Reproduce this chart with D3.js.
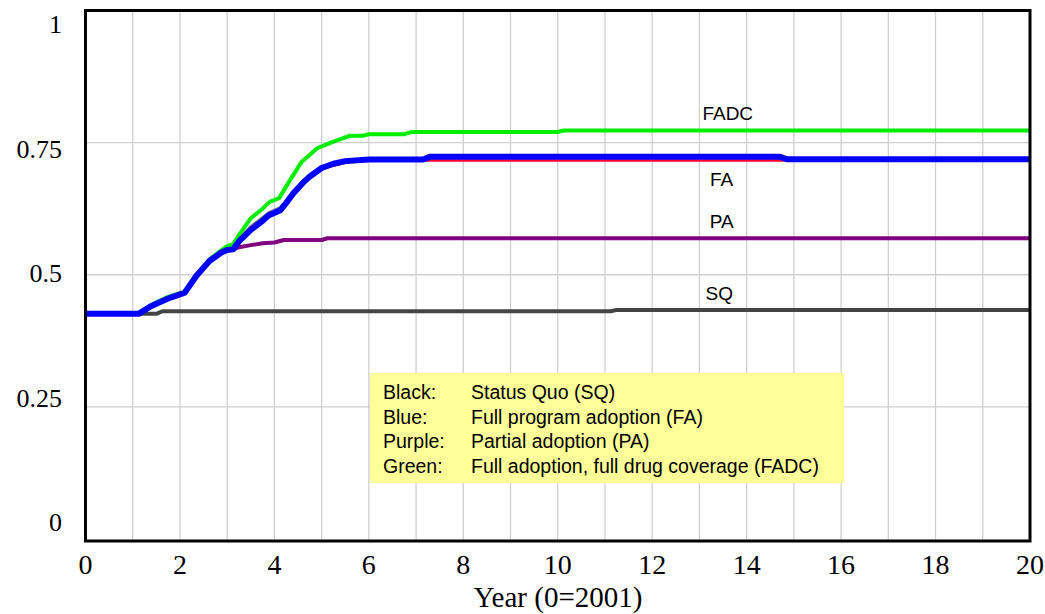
<!DOCTYPE html>
<html><head><meta charset="utf-8">
<script src="https://cdn.jsdelivr.net/npm/d3@7"></script>
<style>body{margin:0;background:#fff}svg{display:block}</style>
</head><body>
<script>
// ---- data ----
const xTicks = [0,2,4,6,8,10,12,14,16,18,20];
const yTicks = [0,0.25,0.5,0.75,1];
const yTickLabels = ["0","0.25","0.5","0.75","1"];
const xTitle = "Year (0=2001)";

const sqData = [[0,0.426],[1.5,0.426],[1.625,0.431],[11.125,0.431],[11.25,0.4335],[20,0.4335]];
const faData = [[0,0.426],[1.125,0.426],[1.375,0.440],[1.5,0.445],[1.75,0.455],[2.0,0.463],[2.1,0.466],
  [2.35,0.498],[2.625,0.526],[2.875,0.542],[3.0,0.547],[3.125,0.548],[3.25,0.563],[3.5,0.585],[3.75,0.602],
  [3.875,0.612],[4.125,0.622],[4.25,0.636],[4.4,0.654],[4.625,0.676],[4.75,0.686],[5.0,0.702],[5.25,0.710],
  [5.5,0.715],[6.0,0.718],[7.15,0.718],[7.3,0.7235],[14.7,0.7235],[14.85,0.7185],[20,0.7185]];
const redData = [[0,0.426],[1.125,0.426],[1.375,0.440],[1.5,0.445],[1.75,0.455],[2.0,0.463],[2.1,0.466],
  [2.35,0.498],[2.625,0.526],[2.875,0.542],[3.0,0.547],[3.125,0.548],[3.25,0.563],[3.5,0.585],[3.75,0.602],
  [3.875,0.612],[4.125,0.622],[4.25,0.636],[4.4,0.654],[4.625,0.676],[4.75,0.686],[5.0,0.701],[5.5,0.712],
  [6.0,0.716],[20,0.716]];
const grayData = [[3.125,0.549],[3.25,0.566],[3.5,0.590],[3.75,0.607],[3.875,0.616],[4.125,0.626],[4.25,0.638]];
const paData = [[0,0.426],[1.125,0.426],[1.375,0.440],[1.5,0.445],[1.75,0.455],[2.0,0.463],[2.1,0.466],
  [2.35,0.498],[2.625,0.526],[2.875,0.542],[3.0,0.547],[3.125,0.549],[3.25,0.552],[3.5,0.556],[3.75,0.5595],
  [4.0,0.561],[4.2,0.5657],[5.0,0.5657],[5.125,0.569],[20,0.569]];
const fadcData = [[0,0.426],[1.125,0.426],[1.375,0.442],[1.5,0.448],[1.75,0.458],[2.0,0.465],[2.1,0.468],
  [2.35,0.500],[2.625,0.529],[2.875,0.546],[3.0,0.554],[3.125,0.558],[3.25,0.575],[3.5,0.607],[3.75,0.625],
  [3.9,0.638],[4.1,0.645],[4.33,0.679],[4.58,0.714],[4.9,0.739],[5.25,0.752],[5.6,0.763],[5.88,0.763],
  [6.0,0.766],[6.75,0.766],[6.9,0.770],[10.0,0.770],[10.125,0.773],[20,0.773]];

const seriesLabels = ["FADC","FA","PA","SQ"];
const seriesLabelYear = [13.6,13.47,13.47,13.42];
const seriesLabelValue = [0.793,0.668,0.588,0.452];
const legendKeys = ["Black:","Blue:","Purple:","Green:"];
const legendTexts = ["Status Quo (SQ)","Full program adoption (FA)","Partial adoption (PA)","Full adoption, full drug coverage (FADC)"];

// ---- drawing ----
const W = 1045, H = 614;
const svg = d3.select("body").append("svg").attr("width", W).attr("height", H);
const x = d3.scaleLinear().domain([0,20]).range([85.5,1030]);
const y = d3.scaleLinear().domain([0,1]).range([539,10.5]);
const yLab = d3.scaleLinear().domain([1,0]).range([33,531]);

// grid
svg.append("g").selectAll("line").data(d3.range(1,20)).join("line")
  .attr("x1", d=>x(d)).attr("x2", d=>x(d)).attr("y1", y(1)).attr("y2", 541)
  .attr("stroke","#cfcfcf").attr("stroke-width",1.3);
svg.append("g").selectAll("line").data([0.25,0.5,0.75]).join("line")
  .attr("x1", x(0)).attr("x2", x(20)).attr("y1", d=>y(d)).attr("y2", d=>y(d))
  .attr("stroke","#cfcfcf").attr("stroke-width",1.3);

// legend box
const lg = svg.append("g");
lg.append("rect").attr("x",370).attr("y",373).attr("width",474).attr("height",110).attr("fill","#ffff99");
legendKeys.forEach((k,i)=>{
  lg.append("text").attr("x",383).attr("y",399+i*24.7).text(k)
    .attr("font-family","Liberation Sans, Arial, sans-serif").attr("font-size",19.5).attr("fill","#000");
  lg.append("text").attr("x",471).attr("y",399+i*24.7).text(legendTexts[i])
    .attr("font-family","Liberation Sans, Arial, sans-serif").attr("font-size",19.5).attr("fill","#000");
});

// lines
const line = d3.line().x(d=>x(d[0])).y(d=>y(d[1]));
const drawLine = (data, color, w) => svg.append("path").datum(data).attr("d", line)
  .attr("fill","none").attr("stroke",color).attr("stroke-width",w).attr("stroke-linejoin","round");
drawLine(sqData, "#444444", 4);
drawLine(paData, "#800080", 4);
drawLine(fadcData, "#00ee00", 4);
drawLine(grayData, "#808080", 4);
drawLine(redData, "#ff0033", 2.5);
drawLine(faData, "#0000ff", 6);

// series labels
svg.append("g").selectAll("text").data(seriesLabels).join("text")
  .attr("x",(d,i)=>x(seriesLabelYear[i])).attr("y",(d,i)=>y(seriesLabelValue[i]))
  .attr("text-anchor","middle").text(d=>d)
  .attr("font-family","Liberation Sans, Arial, sans-serif").attr("font-size",19).attr("fill","#000");

// frame
svg.append("rect").attr("x",x(0)).attr("y",y(1)).attr("width",x(20)-x(0)).attr("height",541-y(1))
  .attr("fill","none").attr("stroke","#000").attr("stroke-width",3);

// axes text
svg.append("g").selectAll("text").data(xTicks).join("text")
  .attr("x", d=>x(d)).attr("y",574).attr("text-anchor","middle").text(d=>d)
  .attr("font-family","Liberation Serif, Times New Roman, serif").attr("font-size",28).attr("fill","#000");
svg.append("g").selectAll("text").data(yTicks).join("text")
  .attr("x", 62).attr("y", d=>yLab(d)).attr("text-anchor","end").text((d,i)=>yTickLabels[i])
  .attr("font-family","Liberation Serif, Times New Roman, serif").attr("font-size",26).attr("fill","#000");
svg.append("text").attr("x",558).attr("y",607).attr("text-anchor","middle").text(xTitle)
  .attr("font-family","Liberation Serif, Times New Roman, serif").attr("font-size",29).attr("fill","#000");
</script>
</body></html>
